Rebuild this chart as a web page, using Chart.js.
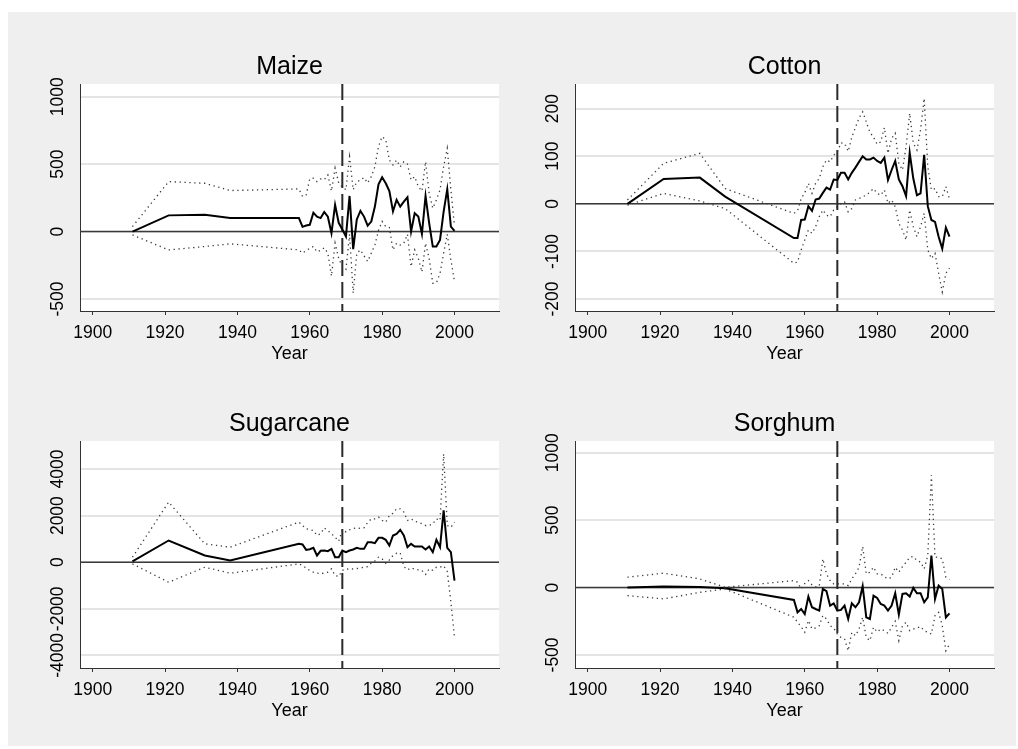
<!DOCTYPE html>
<html>
<head>
<meta charset="utf-8">
<script src="https://cdn.jsdelivr.net/npm/chart.js@4.4.0/dist/chart.umd.min.js"></script>
<style>
  html, body { margin: 0; padding: 0; background: #fff; }
  #bg { position: absolute; left: 8px; top: 12px; width: 1008px; height: 734px; background: #efefef; }
  canvas { position: absolute; }
</style>
</head>
<body>
<div id="bg"></div>
<canvas id="maize" width="500" height="350" style="left:10px;top:20px;"></canvas>
<canvas id="cotton" width="500" height="350" style="left:505px;top:20px;"></canvas>
<canvas id="sugar" width="500" height="350" style="left:10px;top:377px;"></canvas>
<canvas id="sorghum" width="500" height="350" style="left:505px;top:377px;"></canvas>
<script>
// years: sparse early points, then annual 1957-2000
var years = [1911, 1921, 1931, 1938, 1957,
  1958, 1959, 1960, 1961, 1962, 1963, 1964, 1965, 1966, 1967,
  1968, 1969, 1970, 1971, 1972, 1973, 1974, 1975, 1976, 1977,
  1978, 1979, 1980, 1981, 1982, 1983, 1984, 1985, 1986, 1987,
  1988, 1989, 1990, 1991, 1992, 1993, 1994, 1995, 1996, 1997,
  1998, 1999, 2000];

var xTicks = [1900, 1920, 1940, 1960, 1980, 2000];
var breakYear = 1969;

// Maize
var maizeEst = [0, 120, 125, 100, 100,
  35, 45, 50, 140, 110, 100, 145, 110, -12, 197,
  65, 15, -37, 264, -130, 90, 153, 111, 44, 74,
  185, 350, 402, 358, 300, 150, 235, 185, 222, 254,
  0, 136, 111, -17, 264, 62, -111, -111, -62, 148,
  314, 37, 5];
var maizeHi = [37, 370, 358, 304, 316,
  260, 272, 390, 395, 370, 390, 385, 420, 300, 470,
  360, 330, 310, 555, 310, 370, 380, 400, 360, 407,
  480, 630, 704, 680, 530, 494, 530, 480, 518, 500,
  383, 407, 333, 300, 518, 284, 173, 235, 309, 481,
  617, 309, 40];
var maizeLo = [-25, -136, -111, -91, -136,
  -160, -140, -125, -110, -150, -140, -120, -160, -330, -86,
  -200, -260, -280, -20, -457, -160, -136, -180, -222, -160,
  -100, 10, 75, 37, 30, -136, -86, -100, -86, -20,
  -260, -136, -198, -300, -86, -200, -383, -380, -309, -160,
  -20, -210, -370];
var maizeTicks = [-500, 0, 500, 1000];

// Cotton
var cottonEst = [0, 52, 55, 15, -72,
  -72, -34, -33, -5, -15, 9, 11, 23, 34, 30,
  51, 50, 65, 65, 51, 65, 76, 88, 100, 93,
  93, 97, 90, 86, 97, 50, 71, 90, 51, 37,
  16, 107, 53, 18, 22, 103, -5, -34, -38, -69,
  -94, -50, -69];
var cottonHi = [8, 85, 106, 32, -20,
  -15, 11, 23, 43, 22, 43, 53, 78, 92, 88,
  102, 109, 128, 127, 110, 140, 160, 180, 193, 172,
  150, 140, 125, 130, 160, 106, 137, 148, 85, 71,
  120, 190, 127, 113, 155, 221, 78, 29, 32, 15,
  15, 36, 10];
var cottonLo = [-3, 22, 6, -10, -125,
  -122, -97, -76, -55, -62, -48, -27, -13, -24, -27,
  -13, -6, 1, 4, -17, -10, 8, 11, 15, 18,
  25, 32, 22, 18, 29, 1, 8, -6, -41, -55,
  -76, -13, -48, -69, -48, -20, -97, -115, -104, -146,
  -185, -146, -135];
var cottonTicks = [-200, -100, 0, 100, 200];

// Sugarcane
var sugarEst = [40, 932, 287, 72, 789,
  760, 530, 560, 616, 287, 490, 502, 473, 573, 215,
  215, 502, 430, 502, 545, 616, 573, 573, 860, 860,
  817, 1047, 1047, 960, 717, 1147, 1219, 1391, 1147, 645,
  789, 674, 674, 674, 545, 674, 430, 960, 645, 2222,
  616, 430, -788];
var sugarHi = [215, 2580, 789, 645, 1720,
  1577, 1434, 1400, 1362, 1150, 1219, 1477, 1362, 1219, 1075,
  900, 1390, 1300, 1390, 1450, 1477, 1450, 1477, 1700, 1863,
  1863, 1935, 1792, 1720, 2007, 2100, 2294, 2294, 2150, 1792,
  1863, 1750, 1720, 1650, 1577, 1577, 1650, 1863, 1792, 4650,
  1577, 1500, 1720];
var sugarLo = [-72, -860, -215, -473, -72,
  -143, -250, -358, -430, -470, -502, -460, -430, -287, -573,
  -616, -350, -287, -300, -287, -270, -244, -220, -186, -43,
  50, 215, 143, -43, 100, 287, 387, 400, -186, -330,
  -244, -300, -330, -358, -530, -287, -350, -215, -215, -150,
  -400, -1700, -3226];
var sugarTicks = [-4000, -2000, 0, 2000, 4000];

// Sorghum
var sorghumEst = [0, 8, 4, -5, -92,
  -184, -159, -196, -67, -146, -159, -171, -10, -27, -134,
  -117, -171, -166, -134, -233, -117, -146, -109, 10, -221,
  -233, -60, -77, -122, -134, -171, -134, -42, -201, -47,
  -42, -67, -2, -42, -42, -109, -72, 238, -84, 15,
  -10, -221, -191];
var sorghumHi = [77, 107, 64, 2, 52,
  40, -10, 30, 52, 20, 5, 10, 213, 102, 52,
  27, 27, 27, 27, 15, 64, 102, 151, 305, 102,
  114, 151, 102, 102, 80, 64, 77, 151, 114, 156,
  188, 226, 231, 200, 190, 139, 238, 833, 226, 226,
  213, 77, 60];
var sorghumLo = [-60, -84, -35, -10, -220,
  -258, -290, -332, -245, -308, -300, -283, -208, -233, -283,
  -300, -345, -370, -382, -469, -332, -357, -308, -221, -370,
  -394, -295, -330, -308, -320, -340, -295, -250, -394, -283,
  -258, -320, -308, -300, -290, -320, -332, -345, -208, -184,
  -283, -469, -420];
var sorghumTicks = [-500, 0, 500, 1000];

var FONT = '"Liberation Sans", Arial, Helvetica, sans-serif';

function pts(vals) {
  return years.map(function (y, i) { return {x: y, y: vals[i]}; });
}

// white plot region, zero line, dashed break line, title, rotated y labels
var panelPlugin = {
  id: 'panel',
  beforeDraw: function (chart) {
    var a = chart.chartArea, ctx = chart.ctx;
    ctx.save();
    ctx.fillStyle = '#fff';
    ctx.fillRect(a.left, a.top, a.right - a.left, a.bottom - a.top);
    ctx.restore();
  },
  beforeDatasetsDraw: function (chart) {
    var a = chart.chartArea, ctx = chart.ctx;
    var x = chart.scales.x, y = chart.scales.y;
    ctx.save();
    var y0 = y.getPixelForValue(0);
    ctx.strokeStyle = '#3a3a3a';
    ctx.lineWidth = 1.5;
    ctx.beginPath();
    ctx.moveTo(a.left, y0);
    ctx.lineTo(a.right, y0);
    ctx.stroke();
    var xb = x.getPixelForValue(breakYear);
    ctx.strokeStyle = '#2a2a2a';
    ctx.lineWidth = 2;
    ctx.setLineDash([16, 6]);
    ctx.beginPath();
    ctx.moveTo(xb, a.top);
    ctx.lineTo(xb, a.bottom);
    ctx.stroke();
    ctx.restore();
  },
  afterDraw: function (chart, args, opts) {
    var a = chart.chartArea, ctx = chart.ctx, y = chart.scales.y;
    ctx.save();
    ctx.fillStyle = '#000';
    ctx.font = '25px ' + FONT;
    ctx.textAlign = 'center';
    ctx.textBaseline = 'middle';
    ctx.fillText(opts.title, (a.left + a.right) / 2, a.top - 17);
    ctx.font = '17.5px ' + FONT;
    opts.yTicks.forEach(function (v) {
      ctx.save();
      ctx.translate(a.left - 22, y.getPixelForValue(v));
      ctx.rotate(-Math.PI / 2);
      ctx.fillText(String(v), 0, 0);
      ctx.restore();
    });
    ctx.restore();
  }
};

function makePanel(id, title, est, hi, lo, yMin, yMax, yTicks) {
  var dotted = {borderColor: '#3a3a3a', borderWidth: 1.3, borderDash: [1.3, 3.6], pointRadius: 0, tension: 0, fill: false};
  new Chart(document.getElementById(id), {
    type: 'line',
    data: {
      datasets: [
        Object.assign({data: pts(hi)}, dotted),
        Object.assign({data: pts(lo)}, dotted),
        {data: pts(est), borderColor: '#000', borderWidth: 2, pointRadius: 0, tension: 0, fill: false}
      ]
    },
    options: {
      responsive: false,
      animation: false,
      layout: {padding: {top: 64, right: 11, left: 0, bottom: 0}},
      plugins: {
        legend: {display: false},
        tooltip: {enabled: false},
        panel: {title: title, yTicks: yTicks}
      },
      scales: {
        x: {
          type: 'linear',
          min: 1896.5,
          max: 2012.3,
          afterBuildTicks: function (s) { s.ticks = xTicks.map(function (v) { return {value: v}; }); },
          afterFit: function (s) { s.height = 59; },
          grid: {drawOnChartArea: false, drawTicks: true, tickLength: 4, color: '#333'},
          border: {color: '#333', width: 1},
          ticks: {font: {family: FONT, size: 17.5}, color: '#000', padding: 8, maxRotation: 0,
                  callback: function (v) { return String(v); }},
          title: {display: true, text: 'Year', font: {family: FONT, size: 18}, color: '#000',
                  padding: {top: 0, bottom: 5}}
        },
        y: {
          min: yMin,
          max: yMax,
          afterBuildTicks: function (s) { s.ticks = yTicks.map(function (v) { return {value: v}; }); },
          afterFit: function (s) { s.width = 70; },
          grid: {color: '#e4e4e4', lineWidth: 2, drawTicks: false},
          border: {color: '#333', width: 1},
          ticks: {display: false}
        }
      }
    },
    plugins: [panelPlugin]
  });
}

makePanel('maize', 'Maize', maizeEst, maizeHi, maizeLo, -589, 1094, maizeTicks);
makePanel('cotton', 'Cotton', cottonEst, cottonHi, cottonLo, -225, 251.5, cottonTicks);
makePanel('sugar', 'Sugarcane', sugarEst, sugarHi, sugarLo, -4542, 5204, sugarTicks);
makePanel('sorghum', 'Sorghum', sorghumEst, sorghumHi, sorghumLo, -597, 1088, sorghumTicks);
</script>
</body>
</html>
